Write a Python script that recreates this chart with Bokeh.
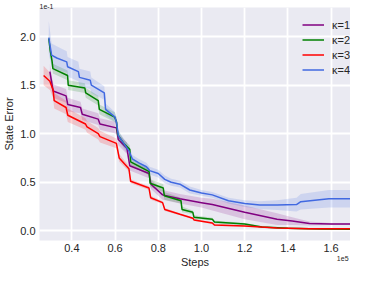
from bokeh.plotting import figure
from bokeh.models import (FixedTicker, Range1d, Legend, LegendItem, PrintfTickFormatter, Title,
                          LinearAxis)
from bokeh.embed import file_html
from bokeh.resources import INLINE

# x in units of 1e5 steps, y in units of 1e-1 state error
k1_x = [0.298, 0.313, 0.373, 0.381, 0.440, 0.448, 0.522, 0.530, 0.606, 0.615, 0.655, 0.668,
        0.757, 0.766, 0.820, 0.900, 1.000, 1.050, 1.200, 1.350, 1.420, 1.500, 1.600, 1.700]
k1_y = [1.64, 1.44, 1.39, 1.30, 1.27, 1.20, 1.15, 1.10, 1.06, 0.94, 0.85, 0.67,
        0.59, 0.48, 0.37, 0.33, 0.29, 0.27, 0.19, 0.12, 0.10, 0.075, 0.07, 0.07]
k1_sd = [0.08, 0.07, 0.07, 0.07, 0.06, 0.06, 0.06, 0.06, 0.06, 0.06, 0.06, 0.05,
         0.05, 0.05, 0.05, 0.05, 0.05, 0.06, 0.07, 0.06, 0.04, 0.02, 0.01, 0.01]

k2_x = [0.293, 0.300, 0.308, 0.312, 0.380, 0.383, 0.460, 0.464, 0.522, 0.527, 0.598, 0.607,
        0.612, 0.640, 0.668, 0.672, 0.758, 0.762, 0.823, 0.828, 0.905, 0.910, 0.960, 0.965,
        1.050, 1.060, 1.200, 1.280, 1.400, 1.550, 1.700]
k2_y = [1.98, 1.85, 1.75, 1.67, 1.60, 1.50, 1.47, 1.42, 1.34, 1.25, 1.17, 1.12,
        0.99, 0.90, 0.84, 0.71, 0.61, 0.49, 0.44, 0.36, 0.31, 0.22, 0.19, 0.14,
        0.12, 0.09, 0.07, 0.04, 0.025, 0.018, 0.015]
k2_sd = [0.05, 0.05, 0.05, 0.05, 0.05, 0.05, 0.05, 0.05, 0.05, 0.05, 0.05, 0.05,
         0.05, 0.04, 0.04, 0.04, 0.04, 0.04, 0.04, 0.04, 0.03, 0.03, 0.02, 0.02,
         0.015, 0.015, 0.01, 0.01, 0.008, 0.005, 0.005]

k3_x = [0.269, 0.298, 0.313, 0.318, 0.373, 0.381, 0.463, 0.470, 0.522, 0.530, 0.606, 0.619,
        0.664, 0.672, 0.757, 0.765, 0.820, 0.830, 0.900, 0.960, 0.966, 1.050, 1.060, 1.200,
        1.350, 1.500, 1.700]
k3_y = [1.60, 1.54, 1.45, 1.34, 1.27, 1.19, 1.10, 1.07, 1.00, 0.97, 0.90, 0.75,
        0.64, 0.51, 0.44, 0.34, 0.29, 0.22, 0.17, 0.13, 0.11, 0.08, 0.06, 0.05,
        0.03, 0.02, 0.02]
k3_sd = [0.10, 0.09, 0.08, 0.08, 0.07, 0.07, 0.06, 0.06, 0.06, 0.06, 0.05, 0.04,
         0.03, 0.02, 0.02, 0.02, 0.015, 0.015, 0.01, 0.01, 0.01, 0.01, 0.01, 0.005,
         0.005, 0.005, 0.005]

k4_x = [0.293, 0.306, 0.330, 0.376, 0.380, 0.430, 0.435, 0.485, 0.490, 0.550, 0.556, 0.600,
        0.608, 0.615, 0.640, 0.665, 0.680, 0.710, 0.745, 0.760, 0.800, 0.830, 0.860, 0.900,
        0.946, 1.000, 1.050, 1.125, 1.200, 1.270, 1.350, 1.440, 1.460, 1.590, 1.700]
k4_y = [1.99, 1.81, 1.78, 1.74, 1.69, 1.64, 1.58, 1.55, 1.50, 1.42, 1.25, 1.17,
        1.10, 0.98, 0.90, 0.82, 0.74, 0.70, 0.66, 0.62, 0.59, 0.53, 0.50, 0.48,
        0.42, 0.39, 0.37, 0.31, 0.28, 0.265, 0.265, 0.27, 0.30, 0.33, 0.33]
k4_sd = [0.17, 0.12, 0.12, 0.11, 0.10, 0.10, 0.09, 0.09, 0.08, 0.07, 0.06, 0.05,
         0.05, 0.05, 0.05, 0.05, 0.04, 0.04, 0.04, 0.04, 0.04, 0.04, 0.035, 0.035,
         0.035, 0.03, 0.03, 0.03, 0.035, 0.04, 0.05, 0.07, 0.08, 0.09, 0.09]

labels = ["κ=1", "κ=2", "κ=3", "κ=4"]
colors = ["#800080", "#008000", "#FF0000", "#4169E1"]
x_ticks = [0.4, 0.6, 0.8, 1.0, 1.2, 1.4, 1.6]
y_ticks = [0.0, 0.5, 1.0, 1.5, 2.0]
x_mult_pos = 1.672
x_mult_text = "1e5"
y_mult_text = "1e-1"

series = [(k1_x, k1_y, k1_sd), (k2_x, k2_y, k2_sd), (k3_x, k3_y, k3_sd), (k4_x, k4_y, k4_sd)]

FONT = "Liberation Sans"
TXT = "#262626"

p = figure(width=350, height=270, output_backend="svg", toolbar_location=None,
           x_range=Range1d(0.25, 1.69), y_range=Range1d(-0.10, 2.30),
           background_fill_color="#EAEAF2", border_fill_color="white",
           min_border_left=30, min_border_right=0, min_border_top=7, min_border_bottom=26)
p.outline_line_color = None

p.add_layout(Title(text=y_mult_text, align="left", text_font=FONT, text_font_size="7px",
                   text_font_style="normal", text_color=TXT, standoff=-2, offset=0), "above")

def style_axis(ax):
    ax.axis_line_color = None
    ax.major_tick_line_color = None
    ax.minor_tick_line_color = None
    ax.major_tick_out = 0
    ax.major_tick_in = 0
    ax.minor_tick_out = 0
    ax.minor_tick_in = 0
    ax.major_label_text_font = FONT
    ax.major_label_text_font_size = "11px"
    ax.major_label_text_color = TXT
    ax.axis_label_text_font = FONT
    ax.axis_label_text_font_size = "11px"
    ax.axis_label_text_font_style = "normal"
    ax.axis_label_text_color = TXT

for ax in (p.xaxis[0], p.yaxis[0]):
    style_axis(ax)
    ax.formatter = PrintfTickFormatter(format="%.1f")

p.xaxis.ticker = FixedTicker(ticks=x_ticks)
p.yaxis.ticker = FixedTicker(ticks=y_ticks)
p.yaxis.axis_label = "State Error"
p.xaxis.major_label_standoff = 3
p.yaxis.major_label_standoff = 4
p.yaxis.axis_label_standoff = 2

# second bottom axis: carries the "1e5" offset text and the "Steps" label
ax2 = LinearAxis(ticker=FixedTicker(ticks=[x_mult_pos]),
                 major_label_overrides={x_mult_pos: x_mult_text})
style_axis(ax2)
ax2.major_label_text_font_size = "7px"
ax2.major_label_standoff = 1
ax2.axis_label = "Steps"
ax2.axis_label_standoff = -8
p.add_layout(ax2, "below")

p.grid.grid_line_color = "white"
p.grid.grid_line_width = 1.8

for (xs, ys, sd), c in zip(series, colors):
    lo = [y - s for y, s in zip(ys, sd)]
    hi = [y + s for y, s in zip(ys, sd)]
    p.varea(x=xs, y1=lo, y2=hi, fill_color=c, fill_alpha=0.17)

items = []
for (xs, ys, sd), c, lab in zip(series, colors, labels):
    r = p.line(xs, ys, line_color=c, line_width=1.5)
    items.append(LegendItem(label=lab, renderers=[r]))

legend = Legend(items=items, location=(259, 159), background_fill_alpha=0,
                border_line_alpha=0, label_text_font=FONT, label_text_font_size="11px",
                label_text_color=TXT, glyph_width=22, glyph_height=15, label_height=15,
                spacing=0, label_standoff=8, margin=0, padding=4)
p.add_layout(legend)

open("out.html", "w").write(file_html(p, INLINE))
